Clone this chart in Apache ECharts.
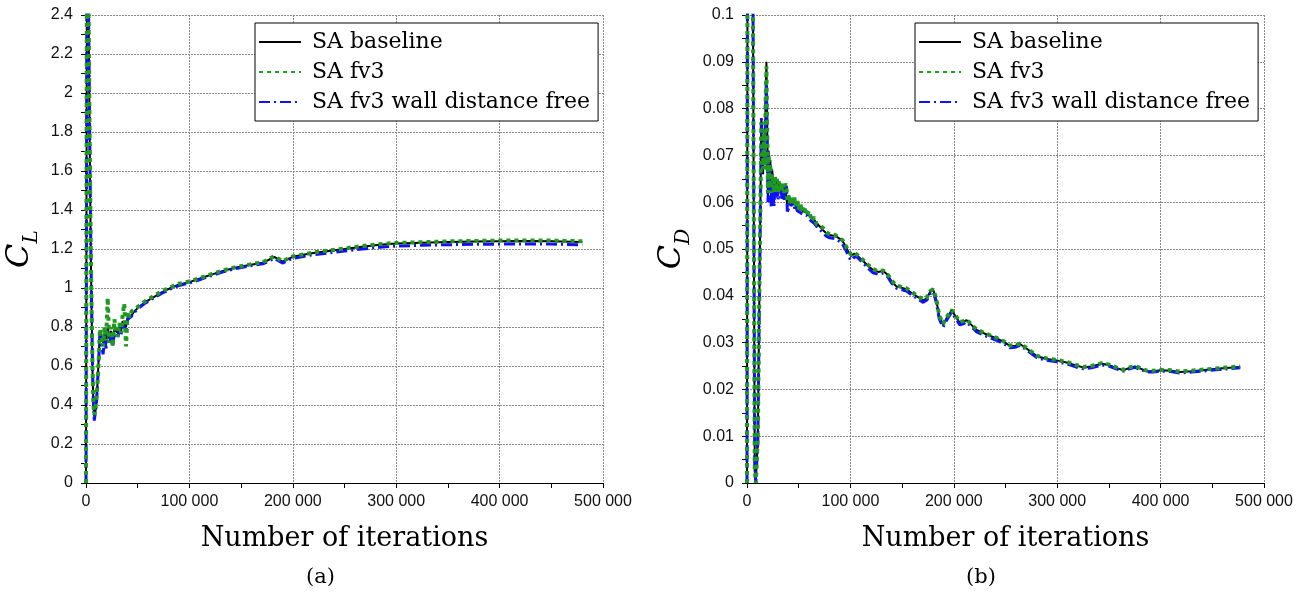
<!DOCTYPE html>
<html>
<head>
<meta charset="utf-8">
<script src="https://cdn.jsdelivr.net/npm/echarts@6/dist/echarts.min.js"></script>
<style>
html,body{margin:0;padding:0;background:#fff;}
#chart{width:1314px;height:599px;}
</style>
</head>
<body>
<div id="chart"></div>
<script>
// ---------- DATA ----------
const seriesNames = ['SA baseline', 'SA fv3', 'SA fv3 wall distance free'];
const xTickValues = [0, 100000, 200000, 300000, 400000, 500000];

// Lift coefficient (left panel)
const itersL = [
  0, 400, 800, 1500, 2500, 3500, 4500, 5500, 6400, 7200,
  8000, 9000, 10000, 11000, 12200, 13500,
  15000, 16500, 18000, 19400, 21000, 22500, 24200, 25800, 27500, 29000,
  30500, 32300, 34000, 35400, 37000, 38700, 40300, 41900, 44000, 46700,
  51600, 58000, 66000, 74000, 82000, 90000, 100000, 111000, 122000, 134000,
  145000, 158000, 171000, 177000, 182000, 186000, 190000, 195000, 200000, 210000,
  220000, 235000, 250000, 267000, 284000, 300000, 325000, 350000, 375000, 400000,
  425000, 450000, 480000
];
const clBaseline = [
  0, 1.2, 2.4, 2.7, 2.4, 1.8, 1.25, 0.85, 0.55, 0.40,
  0.34, 0.36, 0.42, 0.5, 0.63, 0.78,
  0.76, 0.72, 0.77, 0.71, 0.80, 0.74, 0.78, 0.72, 0.79, 0.80,
  0.77, 0.80, 0.78, 0.83, 0.82, 0.80, 0.85, 0.86, 0.86, 0.88,
  0.905, 0.93, 0.955, 0.98, 1.0, 1.018, 1.03, 1.05, 1.07, 1.09,
  1.105, 1.118, 1.13, 1.145, 1.16, 1.148, 1.135, 1.148, 1.16, 1.17,
  1.18, 1.19, 1.2, 1.212, 1.222, 1.228, 1.232, 1.236, 1.238, 1.24,
  1.241, 1.24, 1.236
];
const clFv3 = [
  0, 1.2, 2.4, 2.7, 2.4, 1.8, 1.25, 0.86, 0.56, 0.40,
  0.35, 0.37, 0.43, 0.5, 0.62, 0.79,
  0.80, 0.70, 0.80, 0.73, 0.95, 0.72, 0.80, 0.70, 0.84, 0.78,
  0.75, 0.82, 0.77, 0.86, 0.92, 0.70, 0.88, 0.85, 0.88, 0.89,
  0.91, 0.935, 0.96, 0.985, 1.005, 1.022, 1.033, 1.052, 1.072, 1.092,
  1.107, 1.12, 1.132, 1.15, 1.162, 1.15, 1.138, 1.15, 1.162, 1.172,
  1.182, 1.192, 1.203, 1.215, 1.225, 1.231, 1.235, 1.239, 1.241, 1.243,
  1.244, 1.243, 1.24
];
const clFv3Free = [
  0, 1.18, 2.38, 2.7, 2.42, 1.83, 1.28, 0.88, 0.57, 0.41,
  0.32, 0.33, 0.40, 0.49, 0.62, 0.76,
  0.72, 0.66, 0.74, 0.69, 0.78, 0.71, 0.76, 0.70, 0.77, 0.78,
  0.74, 0.79, 0.76, 0.82, 0.80, 0.78, 0.84, 0.85, 0.855, 0.875,
  0.9, 0.925, 0.95, 0.975, 0.995, 1.013, 1.025, 1.045, 1.065, 1.085,
  1.1, 1.113, 1.124, 1.138, 1.152, 1.14, 1.128, 1.14, 1.152, 1.162,
  1.171, 1.18, 1.19, 1.2, 1.209, 1.215, 1.219, 1.222, 1.224, 1.225,
  1.226, 1.225, 1.222
];

// Drag coefficient (right panel)
const itersD = [
  0, 500, 2500, 5000, 5800, 6700, 7500, 8500, 9500, 10500,
  11700, 12900, 13900, 14700, 15500, 16300, 17100, 18000, 18800, 19600,
  20300, 21000, 21800, 22600, 23400, 24300, 25200, 26100, 27000, 28000,
  29000, 30000, 31000, 32000, 33000, 34000, 35000, 36000, 37000, 38100,
  39000, 40000, 41000, 42500, 44000, 45500, 47000, 48500, 50000, 51500,
  53000, 55000, 57500, 60000, 62500, 65000, 67500, 70400, 73600, 77000,
  80000, 85000, 89700, 93000, 96200, 98500, 101000, 103500, 105900, 112000,
  118000, 122000, 127000, 131700, 136000, 140000, 144600, 150000, 154300, 160000,
  166000, 170400, 174000, 177000, 180100, 183000, 186000, 189700, 193000, 197900,
  202000, 205900, 209000, 212400, 216000, 222100, 230000, 241400, 248000, 254300,
  259000, 264000, 270000, 280200, 290000, 299500, 310000, 318000, 325300, 333000,
  343100, 350000, 357000, 364000, 370000, 375300, 380000, 386600, 393000, 400000,
  410000, 419000, 430000, 444700, 460000, 477000
];
const cdBaseline = [
  0, 0.12, 0.16, 0.118, 0.1, 0.05, 0.003, 0, 0, 0.01,
  0.035, 0.058, 0.078, 0.072, 0.066, 0.074, 0.068, 0.082, 0.09, 0.075,
  0.061, 0.071, 0.063, 0.069, 0.061, 0.067, 0.0645, 0.061, 0.065, 0.062,
  0.0645, 0.0615, 0.064, 0.062, 0.0635, 0.062, 0.0632, 0.0615, 0.0635, 0.0638,
  0.059, 0.0605, 0.0612, 0.06, 0.0605, 0.0595, 0.06, 0.059, 0.0592, 0.0585,
  0.0588, 0.058, 0.0578, 0.0572, 0.0566, 0.0562, 0.0555, 0.0548, 0.054, 0.0533,
  0.053, 0.0528, 0.0522, 0.0515, 0.0502, 0.0492, 0.0485, 0.049, 0.0487, 0.0475,
  0.0462, 0.0455, 0.0451, 0.0453, 0.0445, 0.043, 0.042, 0.0417, 0.0414, 0.0405,
  0.0396, 0.039, 0.0395, 0.0408, 0.0413, 0.0392, 0.0355, 0.0338, 0.0352, 0.0369,
  0.0355, 0.0342, 0.0344, 0.0348, 0.034, 0.0327, 0.0319, 0.0309, 0.0302, 0.0293,
  0.0293, 0.0297, 0.0288, 0.0271, 0.0265, 0.0262, 0.0257, 0.0251, 0.0247, 0.0249,
  0.0255, 0.0252, 0.0246, 0.0241, 0.0246, 0.0249, 0.0245, 0.0239, 0.0239, 0.0241,
  0.024, 0.0237, 0.0239, 0.0242, 0.0245, 0.0248
];
const cdFv3 = [
  0, 0.12, 0.16, 0.118, 0.1, 0.05, 0.003, 0, 0, 0.01,
  0.036, 0.059, 0.077, 0.073, 0.067, 0.075, 0.067, 0.081, 0.089, 0.074,
  0.062, 0.070, 0.064, 0.068, 0.062, 0.066, 0.065, 0.062, 0.0655, 0.0625,
  0.065, 0.062, 0.0645, 0.0625, 0.064, 0.0625, 0.0638, 0.062, 0.064, 0.0632,
  0.0605, 0.0615, 0.0598, 0.0612, 0.0595, 0.0612, 0.0592, 0.0605, 0.0585, 0.0598,
  0.058, 0.0592, 0.0572, 0.0582, 0.056, 0.0568, 0.0552, 0.055, 0.0545, 0.0535,
  0.0532, 0.053, 0.0524, 0.0517, 0.0504, 0.0494, 0.0488, 0.0492, 0.0489, 0.0477,
  0.0464, 0.0457, 0.0453, 0.0454, 0.0446, 0.0432, 0.0422, 0.0419, 0.0416, 0.0407,
  0.0398, 0.0392, 0.0397, 0.041, 0.0414, 0.0394, 0.0357, 0.034, 0.0354, 0.037,
  0.0357, 0.0344, 0.0346, 0.0349, 0.0341, 0.0328, 0.032, 0.031, 0.0303, 0.0294,
  0.0294, 0.0298, 0.0289, 0.0272, 0.0266, 0.0263, 0.0258, 0.0252, 0.0248, 0.025,
  0.0256, 0.0253, 0.0247, 0.0242, 0.0247, 0.025, 0.0246, 0.024, 0.024, 0.0242,
  0.0241, 0.0238, 0.024, 0.0243, 0.0246, 0.0249
];
const cdFv3Free = [
  0, 0.12, 0.16, 0.12, 0.102, 0.052, 0.004, 0, 0, 0.009,
  0.034, 0.057, 0.078, 0.071, 0.07, 0.072, 0.069, 0.079, 0.086, 0.072,
  0.06, 0.07, 0.062, 0.068, 0.059, 0.066, 0.0625, 0.059, 0.064, 0.061,
  0.0635, 0.0605, 0.0632, 0.061, 0.0625, 0.0605, 0.0625, 0.0605, 0.063, 0.0635,
  0.058, 0.0585, 0.0605, 0.0592, 0.0598, 0.0585, 0.0595, 0.0582, 0.0586, 0.0578,
  0.0582, 0.0572, 0.0572, 0.0565, 0.0559, 0.0555, 0.0548, 0.0542, 0.0534, 0.0527,
  0.0524, 0.0522, 0.0516, 0.0508, 0.0495, 0.0482, 0.0476, 0.0482, 0.0484, 0.0471,
  0.0457, 0.0449, 0.0446, 0.0448, 0.0441, 0.0427, 0.0416, 0.0413, 0.041, 0.0401,
  0.0392, 0.0386, 0.0391, 0.0404, 0.0409, 0.0387, 0.035, 0.0333, 0.0348, 0.0365,
  0.0351, 0.0338, 0.034, 0.0344, 0.0336, 0.0323, 0.0315, 0.0305, 0.0298, 0.0289,
  0.029, 0.0294, 0.0285, 0.0268, 0.0262, 0.0259, 0.0254, 0.0248, 0.0244, 0.0246,
  0.0252, 0.025, 0.0244, 0.0239, 0.0244, 0.0247, 0.0243, 0.0237, 0.0237, 0.0239,
  0.0238, 0.0235, 0.0237, 0.024, 0.0243, 0.0246
];

// ---------- CHART ----------
const serif = 'DejaVu Serif';
const sans = 'Liberation Sans';
const chart = echarts.init(document.getElementById('chart'), null, {renderer: 'canvas'});

function pairs(xs, ys) { return xs.map((x, i) => [x, ys[i]]); }
function fmtThousands(v) { return String(v).replace(/\B(?=(\d{3})+(?!\d))/g, ' '); }
function fmtY(v) { return String(+v.toFixed(3)); }

const styles = [
  {color: '#000000', width: 2, type: 'solid', z: 2},
  {color: '#1f9a1f', width: 4, type: [4, 4], z: 4},
  {color: '#1010ff', width: 3, type: [11, 4, 2, 4], z: 3}
];

function xAxisDef(gridIndex) {
  return {
    type: 'value', gridIndex, min: 0, max: 500000, interval: 100000,
    name: 'Number of iterations', nameLocation: 'middle', nameGap: 42,
    nameTextStyle: {fontFamily: serif, fontSize: 27, color: '#000'},
    axisLine: {show: true, lineStyle: {color: '#000', width: 1}},
    axisTick: {show: true, inside: false, length: 5, lineStyle: {color: '#000'}},
    minorTick: {show: true, splitNumber: 2, length: 5, lineStyle: {color: '#000'}},
    axisLabel: {fontFamily: sans, fontSize: 16, color: '#111', margin: 11, formatter: fmtThousands},
    splitLine: {show: true, lineStyle: {color: '#888', type: [2, 1], width: 1}}
  };
}
function yAxisDef(gridIndex, max, interval, sub, gap) {
  return {
    type: 'value', gridIndex, min: 0, max, interval,
    name: '{c|C}{s|' + sub + '}', nameLocation: 'middle', nameRotate: 90, nameGap: gap,
    nameTextStyle: {
      color: '#000',
      rich: {
        c: {fontFamily: serif, fontStyle: 'italic', fontSize: 32, lineHeight: 36, verticalAlign: 'top', color: '#000'},
        s: {fontFamily: serif, fontStyle: 'italic', fontSize: 20, lineHeight: 56, color: '#000'}
      }
    },
    axisLine: {show: true, lineStyle: {color: '#000', width: 1}},
    axisTick: {show: true, inside: false, length: 5, lineStyle: {color: '#000'}},
    minorTick: {show: true, splitNumber: 2, length: 5, lineStyle: {color: '#000'}},
    axisLabel: {fontFamily: sans, fontSize: 16, color: '#111', margin: 13, formatter: fmtY},
    splitLine: {show: true, lineStyle: {color: '#888', type: [2, 1], width: 1}}
  };
}
function legendDef(left) {
  return {
    data: seriesNames, orient: 'vertical', left, top: 23,
    itemWidth: 42, itemHeight: 22, itemGap: 8, padding: [8, 8, 8, 3],
    backgroundColor: '#fff', borderColor: '#000', borderWidth: 1, borderRadius: 0,
    textStyle: {fontFamily: serif, fontSize: 22, color: '#000', padding: [0, 0, 0, 6]},
    itemStyle: {color: 'rgba(0,0,0,0)', borderWidth: 0, opacity: 0},
    selectedMode: false
  };
}

const lData = [clBaseline, clFv3, clFv3Free];
const dData = [cdBaseline, cdFv3, cdFv3Free];
const series = [];
[0, 2, 1].forEach(k => {
  series.push({
    type: 'line', name: seriesNames[k], xAxisIndex: 0, yAxisIndex: 0,
    data: pairs(itersL, lData[k]), symbol: 'none', z: styles[k].z,
    lineStyle: {color: styles[k].color, width: styles[k].width, type: styles[k].type},
    itemStyle: {color: styles[k].color}, clip: true, animation: false
  });
});
[0, 2, 1].forEach(k => {
  series.push({
    type: 'line', name: seriesNames[k], xAxisIndex: 1, yAxisIndex: 1,
    data: pairs(itersD, dData[k]), symbol: 'none', z: styles[k].z,
    lineStyle: {color: styles[k].color, width: styles[k].width, type: styles[k].type},
    itemStyle: {color: styles[k].color}, clip: true, animation: false
  });
});

const option = {
  backgroundColor: '#fff',
  animation: false,
  grid: [
    {left: 86, top: 15, width: 517, height: 468, containLabel: false, outerBoundsMode: 'none'},
    {left: 747, top: 15, width: 517, height: 468, containLabel: false, outerBoundsMode: 'none'}
  ],
  xAxis: [xAxisDef(0), xAxisDef(1)],
  yAxis: [yAxisDef(0, 2.4, 0.2, 'L', 26), yAxisDef(1, 0.1, 0.01, 'D', 35)],
  legend: [legendDef(255), legendDef(915)],
  graphic: [
    {type: 'text', left: 306, top: 567, style: {text: '(a)', font: '21px "DejaVu Serif"', fill: '#000'}},
    {type: 'text', left: 966, top: 567, style: {text: '(b)', font: '21px "DejaVu Serif"', fill: '#000'}}
  ],
  series
};
chart.setOption(option);
</script>
</body>
</html>
